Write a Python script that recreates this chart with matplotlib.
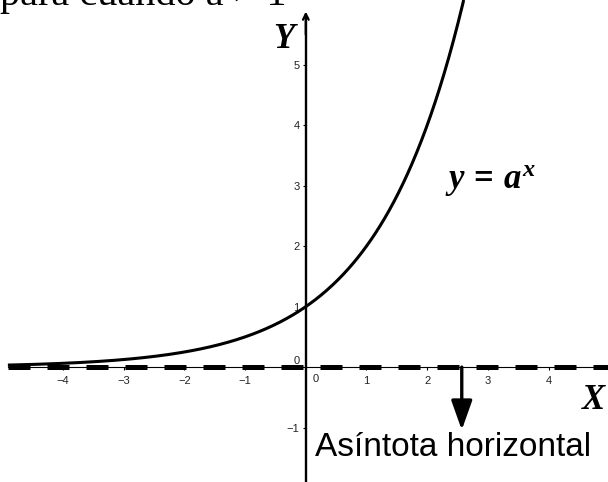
import numpy as np
import matplotlib
matplotlib.use("Agg")
import matplotlib.pyplot as plt

# base of the exponential and the drawing window
base = 2
x_min, x_max = -5.04, 4.98
y_min, y_max = -1.9, 6.07

x_ticks = [-4, -3, -2, -1, 1, 2, 3, 4]
y_ticks = [-1, 1, 2, 3, 4, 5]
asymptote_y = 0
arrow_x = 2.57
arrow_tip_y = -1.04

plt.rcParams["mathtext.fontset"] = "custom"
plt.rcParams["mathtext.it"] = "Liberation Serif:bold:italic"
plt.rcParams["mathtext.rm"] = "Liberation Serif:bold"

fig = plt.figure(figsize=(6.08, 4.82), dpi=100)
ax = fig.add_axes([0, 0, 1, 1])
ax.set_xlim(x_min, x_max)
ax.set_ylim(y_min, y_max)

# axes through the origin
ax.spines["left"].set_position(("data", 0))
ax.spines["bottom"].set_position(("data", 0))
ax.spines["right"].set_visible(False)
ax.spines["top"].set_visible(False)
ax.spines["left"].set_linewidth(1.7)
ax.spines["left"].set_bounds(y_min, 5.7)
ax.spines["bottom"].set_linewidth(0.8)
ax.spines["bottom"].set_bounds(-4.91, x_max)
ax.annotate("", xy=(0, 5.88), xytext=(0, 5.5),
            arrowprops=dict(arrowstyle="->", lw=1.7, shrinkA=0, shrinkB=0))

ax.set_xticks(x_ticks)
ax.set_yticks(y_ticks)
ax.tick_params(direction="out", length=2.5, width=0.8, labelsize=8,
               labelcolor="#222222", pad=2)
ax.tick_params(axis="x", pad=4)
for lbl in ax.get_xticklabels() + ax.get_yticklabels():
    lbl.set_family("Liberation Sans")
ax.text(-0.15, 0.1, "0", fontsize=8, family="Liberation Sans", color="#222222",
        ha="center", va="center")
ax.text(0.12, -0.2, "0", fontsize=8, family="Liberation Sans", color="#222222",
        ha="left", va="center")

# exponential curve y = a^x
xs = np.linspace(-4.91, np.log(y_max) / np.log(base), 400)
ax.plot(xs, base ** xs, color="black", lw=2.2, solid_capstyle="butt", zorder=3)

# horizontal asymptote
ax.plot([-4.91, x_max], [asymptote_y, asymptote_y], color="black", lw=3.6,
        dashes=(4.4, 3.4), zorder=4)

# arrow pointing at the asymptote label
ax.annotate("", xy=(arrow_x, arrow_tip_y), xytext=(arrow_x, asymptote_y),
            arrowprops=dict(arrowstyle="-|>,head_length=0.9,head_width=0.32",
                            mutation_scale=20, lw=2.4, color="black",
                            shrinkA=0, shrinkB=0), zorder=5)
ax.text(2.42, -1.33, "Asíntota horizontal", fontsize=24, family="Liberation Sans",
        ha="center", va="center")

ax.text(3.05, 3.07, r"$y\,=\,a^x$", fontsize=25, ha="center", va="center")
ax.text(-0.37, 5.42, "Y", fontsize=25, family="Liberation Serif", weight="bold",
        style="italic", ha="center", va="center")
ax.text(4.74, -0.55, "X", fontsize=25, family="Liberation Serif", weight="bold",
        style="italic", ha="center", va="center")

# heading line partly cut by the top edge
ax.text(-5.04, 5.99, "para cuando a > 1", fontsize=29, family="Liberation Serif",
        ha="left", va="baseline")

fig.savefig("out.png", dpi=100)
